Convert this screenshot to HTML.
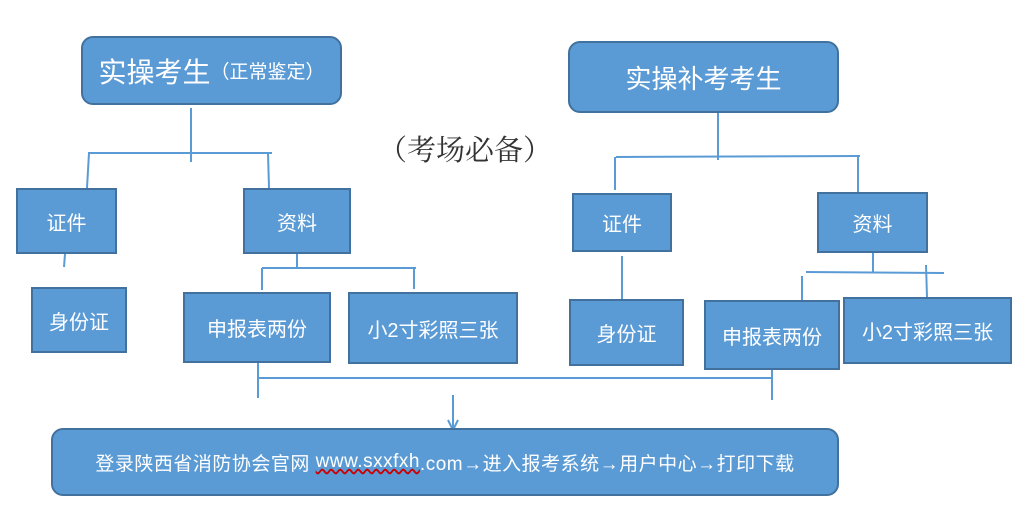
<!DOCTYPE html>
<html><head><meta charset="utf-8"><style>
body{margin:0;width:1019px;height:507px;background:#fff;position:relative;overflow:hidden;font-family:"Liberation Sans","Noto Sans CJK SC",sans-serif}
.b{position:absolute;background:#5b9bd5;border:2px solid #41719c;box-sizing:border-box;color:#fff;display:flex;align-items:center;justify-content:center;font-size:20px;white-space:nowrap}
.r{border-radius:12px}
svg{position:absolute;left:0;top:0}
</style></head><body>
<svg width="1019" height="507"><g stroke="#5b9bd5" stroke-width="2" fill="none">
<line x1="191" y1="108" x2="191" y2="162"/><line x1="88" y1="153" x2="272" y2="153"/>
<line x1="89" y1="153" x2="87" y2="188"/><line x1="268" y1="153" x2="269" y2="188"/>
<line x1="65" y1="254" x2="64" y2="267"/>
<line x1="297" y1="253" x2="297" y2="268"/><line x1="262" y1="268" x2="416" y2="268"/>
<line x1="262" y1="268" x2="262" y2="290"/><line x1="414" y1="268" x2="414" y2="289"/>
<line x1="718" y1="113" x2="718" y2="160"/><line x1="616" y1="157" x2="860" y2="156"/>
<line x1="615" y1="157" x2="615" y2="190"/><line x1="858" y1="156" x2="858" y2="192"/>
<line x1="622" y1="256" x2="622" y2="299"/>
<line x1="873" y1="252" x2="873" y2="273"/><line x1="806" y1="272" x2="944" y2="273"/>
<line x1="802" y1="276" x2="802" y2="300"/><line x1="926" y1="265" x2="927" y2="297"/>
<line x1="258" y1="362" x2="258" y2="398"/><line x1="258" y1="378" x2="772" y2="378"/>
<line x1="772" y1="368" x2="772" y2="400"/>
<line x1="453" y1="395" x2="453" y2="430"/><polyline points="448,420 453,430 458,420"/>
</g></svg>
<div class="b r" style="left:81px;top:36px;width:261px;height:69px;font-size:28px">实操考生<span style="font-size:19px">（正常鉴定）</span></div>
<div class="b r" style="left:568px;top:41px;width:271px;height:72px;font-size:26px">实操补考考生</div>
<div style="position:absolute;left:378px;top:128px;font-size:29px;color:#333;font-family:'Noto Serif CJK SC',serif">（考场必备）</div>
<div class="b" style="left:16px;top:188px;width:101px;height:66px">证件</div>
<div class="b" style="left:243px;top:188px;width:108px;height:66px">资料</div>
<div class="b" style="left:31px;top:287px;width:96px;height:66px">身份证</div>
<div class="b" style="left:183px;top:292px;width:148px;height:71px">申报表两份</div>
<div class="b" style="left:348px;top:292px;width:170px;height:72px">小2寸彩照三张</div>
<div class="b" style="left:572px;top:193px;width:100px;height:59px">证件</div>
<div class="b" style="left:817px;top:192px;width:111px;height:61px">资料</div>
<div class="b" style="left:569px;top:299px;width:115px;height:67px">身份证</div>
<div class="b" style="left:704px;top:300px;width:136px;height:70px">申报表两份</div>
<div class="b" style="left:843px;top:297px;width:169px;height:67px">小2寸彩照三张</div>
<div class="b r" style="left:51px;top:428px;width:788px;height:68px;font-size:19px;letter-spacing:0.5px">登录陕西省消防协会官网&nbsp;<span style="text-decoration:underline wavy #c00">www.sxxfxh</span>.com→进入报考系统→用户中心→打印下载</div>
</body></html>
